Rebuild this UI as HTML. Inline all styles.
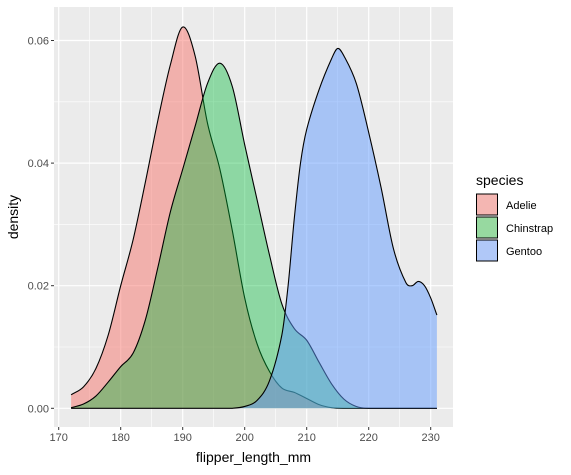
<!DOCTYPE html>
<html><head><meta charset="utf-8"><style>
body{margin:0;background:#fff;font-family:"Liberation Sans",sans-serif}
</style></head><body>
<svg id="c" width="571" height="470" xmlns="http://www.w3.org/2000/svg"></svg>
<script>
const adelieX=[172,174,176,178,180,182,184,186,188,190,192,194,196,198,200,202,204,206,208,210,212,214,216,231];
const adelie=[0.0022,0.0035,0.0065,0.012,0.020,0.0275,0.037,0.047,0.056,0.0622,0.0575,0.0465,0.039,0.029,0.018,0.0105,0.006,0.0033,0.0026,0.0016,0.0006,0.0001,0,0];
const chinstrapX=[172,174,176,178,180,182,184,186,188,190,192,194,196,198,200,202,204,206,208,210,212,214,216,218,220,231];
const chinstrap=[0.0001,0.0007,0.002,0.0043,0.0068,0.009,0.0145,0.023,0.032,0.039,0.046,0.053,0.0563,0.0525,0.043,0.034,0.025,0.017,0.013,0.0111,0.0075,0.004,0.0015,0.0003,0,0];
const gentooX=[172,196,198,200,202,204,206,207,208,209,210,212,214,215,216,218,220,222,224,226,227,228,229,230,231];
const gentoo=[0,0,0,0.0003,0.0013,0.0045,0.012,0.02,0.031,0.040,0.0455,0.052,0.057,0.0587,0.0575,0.053,0.045,0.036,0.026,0.0205,0.020,0.0207,0.020,0.018,0.0152];
const xTicks=[170,180,190,200,210,220,230];
const yTicks=[0,0.02,0.04,0.06];
const yLabels=["0.00","0.02","0.04","0.06"];
const speciesNames=["Adelie","Chinstrap","Gentoo"];
const colors=["rgba(248,118,109,0.5)","rgba(0,186,56,0.4)","rgba(97,156,255,0.5)"];
const legendColors=["#F4B6B2","#97D9A0","#B0C8F8"];

const svg=document.getElementById('c');
const NS="http://www.w3.org/2000/svg";
const L=54,R=453,T=7,B=427;
const X=v=>58.7+(v-170)*6.2;
const Y=v=>408.3-v*6130;
function mk(tag,attrs,parent){const e=document.createElementNS(NS,tag);for(const k in attrs)e.setAttribute(k,attrs[k]);(parent||svg).appendChild(e);return e;}

const bg=mk('rect',{x:L,y:T,width:R-L,height:B-T,fill:'#EBEBEB'});


for(let v=175;v<=225;v+=10){const g=mk('line',{x1:X(v),x2:X(v),y1:T,y2:B,stroke:'#fff','stroke-width':0.6});}
for(let v=0.01;v<0.06;v+=0.02){const g=mk('line',{x1:L,x2:R,y1:Y(v),y2:Y(v),stroke:'#fff','stroke-width':0.6});}
xTicks.forEach(v=>{const g=mk('line',{x1:X(v),x2:X(v),y1:T,y2:B,stroke:'#fff','stroke-width':1.2});
 const t=mk('line',{x1:X(v),x2:X(v),y1:B,y2:B+3,stroke:'#333'});
 const l=mk('text',{x:X(v),y:B+14,'text-anchor':'middle','font-size':11,fill:'#4D4D4D'});l.textContent=v;});
yTicks.forEach((v,i)=>{const g=mk('line',{x1:L,x2:R,y1:Y(v),y2:Y(v),stroke:'#fff','stroke-width':1.2});
 const t=mk('line',{x1:L-3,x2:L,y1:Y(v),y2:Y(v),stroke:'#333'});
 const l=mk('text',{x:L-5,y:Y(v)+4,'text-anchor':'end','font-size':11,fill:'#4D4D4D'});l.textContent=yLabels[i];});

function curve(xs,vals){const p=xs.map((x,i)=>[X(x),Y(vals[i])]);let d=`M${p[0][0]},${p[0][1]}`;
 for(let i=0;i<p.length-1;i++){const p0=p[Math.max(0,i-1)],p1=p[i],p2=p[i+1],p3=p[Math.min(p.length-1,i+2)];
  const h=p2[0]-p1[0];
  const m1=(p2[1]-p0[1])/(p2[0]-p0[0]||1), m2=(p3[1]-p1[1])/(p3[0]-p1[0]||1);
  const c1=[p1[0]+h/3,Math.min(p1[1]+m1*h/3,Y(0))],c2=[p2[0]-h/3,Math.min(p2[1]-m2*h/3,Y(0))];
  d+=`C${c1[0]},${c1[1]} ${c2[0]},${c2[1]} ${p2[0]},${p2[1]}`;}
 return d;}
[[adelieX,adelie],[chinstrapX,chinstrap],[gentooX,gentoo]].forEach(([xs,vals],i)=>{const d=curve(xs,vals);
 const a=mk('path',{d:d+`L${X(xs[xs.length-1])},${Y(0)}L${X(xs[0])},${Y(0)}Z`,fill:colors[i]});
 
 const l=mk('path',{d:d,fill:'none',stroke:'#000','stroke-width':1.1});
 });

const xt=mk('text',{x:(L+R)/2,y:462,'text-anchor':'middle','font-size':14,fill:'#000'});xt.textContent='flipper_length_mm';

const yt=mk('text',{x:18,y:(T+B)/2,'text-anchor':'middle','font-size':14,fill:'#000',transform:`rotate(-90 18 ${(T+B)/2})`});yt.textContent='density';

const lt=mk('text',{x:476,y:185,'font-size':14,fill:'#000'});lt.textContent='species';

speciesNames.forEach((n,i)=>{const y=194+i*23;
 const r=mk('rect',{x:476.5,y:y,width:21,height:21,fill:legendColors[i],stroke:'#000','stroke-width':1});
 
 const t=mk('text',{x:506,y:y+15,'font-size':11,fill:'#000'});t.textContent=n;
 });
</script>
</body></html>
